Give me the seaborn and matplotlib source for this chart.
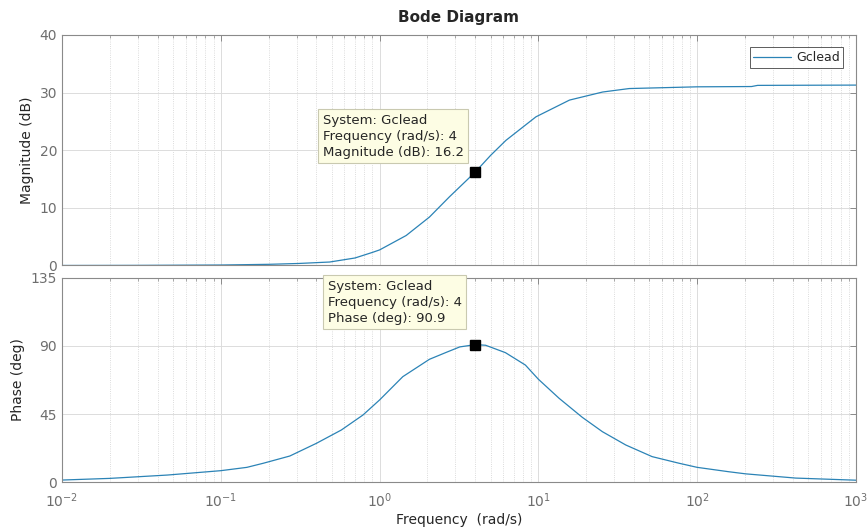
"""Bode diagram of the Gclead compensator, redrawn from a MATLAB screenshot."""

import matplotlib
import matplotlib.pyplot as plt
import pandas as pd
import seaborn as sns
from matplotlib.ticker import LogLocator, NullFormatter

matplotlib.use("Agg")

# values
mag_freq = [0.01, 0.03, 0.1, 0.2, 0.31, 0.485, 0.7, 0.908, 1.0, 1.47, 2.06, 2.75,
            4.0, 5.0, 6.24, 9.66, 15.7, 25.4, 37.3, 100, 220, 240, 1000]
mag_db = [0.0, 0.02, 0.08, 0.2, 0.35, 0.6, 1.3, 2.3, 2.7, 5.2, 8.4, 11.9,
          16.2, 19.1, 21.7, 25.8, 28.7, 30.1, 30.7, 31.0, 31.05, 31.25, 31.3]

phase_freq = [0.01, 0.02, 0.046, 0.1, 0.146, 0.185, 0.272, 0.40, 0.574, 0.785, 1.0,
              1.40, 2.06, 2.63, 3.2, 4.0, 4.65, 6.2, 8.28, 10, 13.5, 18.9, 25.3, 35.5,
              52, 77, 100, 158, 202, 417, 1000]
phase_deg = [1.3, 2.4, 4.6, 7.5, 9.7, 12.4, 17.2, 25.6, 34.4, 44.3, 54.3,
             69.7, 81.2, 85.8, 89.4, 90.9, 90.5, 85.6, 77.4, 68.0, 55.4, 42.8, 33.3, 24.5,
             16.8, 12.4, 9.7, 6.8, 5.4, 2.6, 1.2]

tip_freq = 4
tip_mag = 16.2
tip_phase = 90.9

mag_ticks = [0, 10, 20, 30, 40]
phase_ticks = [0, 45, 90, 135]

LINE_COLOR = "#2b83b6"
TICK_COLOR = "#6e6e6e"
EDGE_COLOR = "#8a8a8a"
TIP_FACE = "#fdfde4"
TIP_EDGE = "#c9c9b0"


def style_axes(ax, yticks):
    ax.set_xscale("log")
    ax.set_xlim(0.01, 1000)
    ax.set_ylim(yticks[0], yticks[-1])
    ax.set_yticks(yticks)
    ax.xaxis.set_minor_locator(LogLocator(base=10, subs=range(2, 10), numticks=20))
    ax.xaxis.set_minor_formatter(NullFormatter())
    ax.grid(which="major", color="#dcdcdc", linewidth=0.7, linestyle="-")
    ax.grid(which="minor", axis="x", color="#d0d0d0", linewidth=0.6, linestyle=":")
    ax.set_axisbelow(True)
    ax.tick_params(which="both", direction="in", top=True, right=True,
                   colors=EDGE_COLOR, labelcolor=TICK_COLOR, labelsize=10)
    ax.tick_params(which="major", length=4, width=0.7)
    ax.tick_params(which="minor", length=2, width=0.5)
    ax.tick_params(axis="x", which="major", pad=7)
    for spine in ax.spines.values():
        spine.set_color(EDGE_COLOR)
        spine.set_linewidth(0.8)


def add_tip(ax, x, y, text):
    ax.text(x, y, text, transform=ax.transAxes, ha="left", va="top",
            fontsize=9.5, color="#262626", linespacing=1.3, zorder=6,
            bbox=dict(boxstyle="square,pad=0.35", facecolor=TIP_FACE,
                      edgecolor=TIP_EDGE, linewidth=0.8))


sns.set_style("white")
plt.rcParams["font.family"] = ["DejaVu Sans"]

fig = plt.figure(figsize=(8.67, 5.28), dpi=100)
ax_mag = fig.add_axes([0.0715, 0.4972, 0.9158, 0.4366])
ax_ph = fig.add_axes([0.0715, 0.0871, 0.9158, 0.3864])

mag_df = pd.DataFrame({"freq": mag_freq, "mag": mag_db})
phase_df = pd.DataFrame({"freq": phase_freq, "phase": phase_deg})

sns.lineplot(data=mag_df, x="freq", y="mag", ax=ax_mag, color=LINE_COLOR,
             linewidth=0.9, estimator=None, sort=False, label="Gclead")
sns.lineplot(data=phase_df, x="freq", y="phase", ax=ax_ph, color=LINE_COLOR,
             linewidth=0.9, estimator=None, sort=False, legend=False)

style_axes(ax_mag, mag_ticks)
style_axes(ax_ph, phase_ticks)
ax_mag.tick_params(labelbottom=False)

ax_mag.plot([tip_freq], [tip_mag], marker="s", markersize=6.5, color="black",
            linestyle="none", zorder=5)
ax_ph.plot([tip_freq], [tip_phase], marker="s", markersize=6.5, color="black",
           linestyle="none", zorder=5)

add_tip(ax_mag, 0.3283, 0.6586,
        f"System: Gclead\nFrequency (rad/s): {tip_freq}\nMagnitude (dB): {tip_mag}")
add_tip(ax_ph, 0.3346, 0.9917,
        f"System: Gclead\nFrequency (rad/s): {tip_freq}\nPhase (deg): {tip_phase}")

leg = ax_mag.legend(loc="upper right", fontsize=9, frameon=True, fancybox=False,
                    handlelength=3.0, handletextpad=0.4, borderpad=0.3,
                    borderaxespad=1.0)
leg.get_frame().set_edgecolor("#333333")
leg.get_frame().set_linewidth(0.7)

ax_mag.set_xlabel("")
ax_mag.set_ylabel("Magnitude (dB)", fontsize=10, color="#262626")
ax_ph.set_ylabel("Phase (deg)", fontsize=10, color="#262626")
ax_ph.set_xlabel("Frequency  (rad/s)", fontsize=10, color="#262626", labelpad=2)
ax_mag.set_title("Bode Diagram", fontsize=11, fontweight="bold", pad=9)

fig.savefig("out.png", dpi=100)
plt.close(fig)
